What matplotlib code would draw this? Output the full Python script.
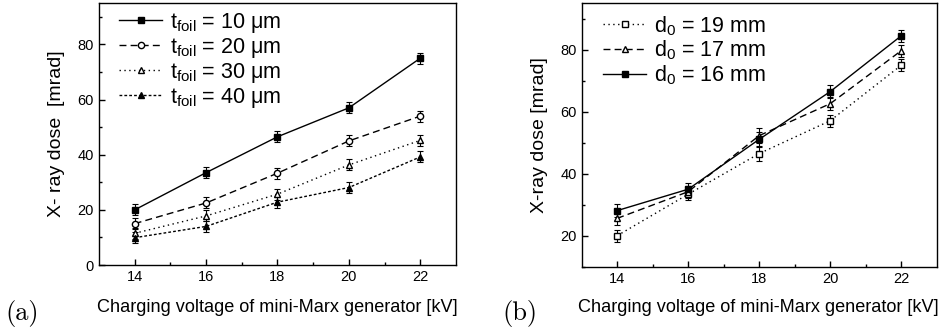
import matplotlib
matplotlib.use('Agg')
from matplotlib import pyplot as plt

plt.rcParams['font.family'] = ['Liberation Sans', 'DejaVu Sans']
plt.rcParams['mathtext.fontset'] = 'custom'
plt.rcParams['mathtext.rm'] = 'Liberation Sans'
plt.rcParams['mathtext.it'] = 'Liberation Sans:italic'

# Dane - panel (a): grubosc folii
voltage = [14, 16, 18, 20, 22]
t10 = [20.0, 33.5, 46.5, 57.0, 75.0]
t20 = [15.0, 22.5, 33.3, 45.0, 54.0]
t30 = [11.5, 17.8, 25.7, 36.3, 45.2]
t40 = [9.9, 14.0, 22.8, 28.1, 39.2]
err_a = [2.0, 2.0, 2.0, 2.0, 2.0]

# Dane - panel (b): odleglosc d0
d19 = [20.0, 33.4, 46.5, 57.1, 75.0]
d17 = [25.6, 34.2, 52.3, 62.6, 79.7]
d16 = [28.1, 35.0, 51.1, 66.5, 84.5]
err_b = [2.0, 2.0, 2.5, 2.0, 2.0]

fig = plt.figure(figsize=(9.4, 3.32), dpi=100)
ax1 = fig.add_axes([0.1053, 0.2018, 0.3798, 0.789])
ax2 = fig.add_axes([0.6188, 0.1967, 0.3777, 0.7934])

kw = dict(color='black', lw=1.0, ms=4.5, capsize=2.2, elinewidth=0.8,
          capthick=0.8, mec='black')

ax1.errorbar(voltage, t10, yerr=err_a, fmt='s-', mfc='black',
             label=r'$\mathrm{t_{foil}}$ = 10 μm', **kw)
ax1.errorbar(voltage, t20, yerr=err_a, fmt='o', ls=(0, (5, 3)), mfc='white',
             label=r'$\mathrm{t_{foil}}$ = 20 μm', **kw)
ax1.errorbar(voltage, t30, yerr=err_a, fmt='^', ls=(0, (1, 2.5)), mfc='white',
             label=r'$\mathrm{t_{foil}}$ = 30 μm', **kw)
ax1.errorbar(voltage, t40, yerr=err_a, fmt='^', ls=(0, (2, 1.5)), mfc='black',
             label=r'$\mathrm{t_{foil}}$ = 40 μm', **kw)

ax2.errorbar(voltage, d19, yerr=err_b, fmt='s', ls=(0, (1, 2.5)), mfc='white',
             label=r'$\mathrm{d_0}$ = 19 mm', **kw)
ax2.errorbar(voltage, d17, yerr=err_b, fmt='^', ls=(0, (5, 3)), mfc='white',
             label=r'$\mathrm{d_0}$ = 17 mm', **kw)
ax2.errorbar(voltage, d16, yerr=err_b, fmt='s-', mfc='black',
             label=r'$\mathrm{d_0}$ = 16 mm', **kw)

for ax, ylim, yt, anchor in [(ax1, (0, 95), [0, 20, 40, 60, 80], (0.035, 1.0)),
                             (ax2, (10, 95), [20, 40, 60, 80], (0.04, 0.988))]:
    ax.set_xlim(13, 23)
    ax.set_ylim(*ylim)
    ax.set_xticks(voltage)
    ax.set_xticks([15, 17, 19, 21], minor=True)
    ax.set_yticks(yt)
    ax.set_yticks(range(10, 95, 20), minor=True)
    ax.tick_params(which='both', direction='in', top=False, right=False,
                   labelsize=10.5)
    ax.tick_params(which='major', length=4, width=1)
    ax.tick_params(which='minor', length=2.5, width=1)
    for s in ax.spines.values():
        s.set_linewidth(1.0)
    # w legendzie tylko linia z markerem, bez slupkow bledu
    handles, labels = ax.get_legend_handles_labels()
    handles = [h[0] for h in handles]
    ax.legend(handles, labels, loc='upper left', bbox_to_anchor=anchor,
              frameon=False, fontsize=15.5, handlelength=2.0, numpoints=1,
              handletextpad=0.35, labelspacing=0.05, borderaxespad=0.05,
              borderpad=0.3)

ax1.set_ylabel("X- ray dose  [mrad]", fontsize=14, labelpad=9)
ax2.set_ylabel("X-ray dose [mrad]", fontsize=14, labelpad=9)

fig.text(0.2952, 0.075, "Charging voltage of mini-Marx generator [kV]",
         fontsize=13.1, ha='center', va='center')
fig.text(0.807, 0.075, "Charging voltage of mini-Marx generator [kV]",
         fontsize=13.1, ha='center', va='center')
fig.text(0.006, 0.057, "(a)", family='cmr10', fontsize=19, va='center')
fig.text(0.534, 0.057, "(b)", family='cmr10', fontsize=19, va='center')

fig.savefig('out.png', dpi=100)
